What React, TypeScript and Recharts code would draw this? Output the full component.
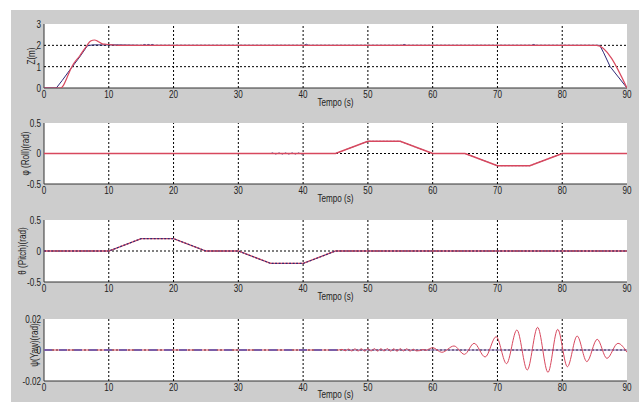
import React from 'react';
import { LineChart, Line, XAxis, YAxis, CartesianGrid } from 'recharts';

// time axis + tick labels
const X_TICKS = [0, 10, 20, 30, 40, 50, 60, 70, 80, 90];
const Z_TICKS = [0, 1, 2, 3];
const ANGLE_TICKS = [-0.5, 0, 0.5];
const YAW_TICKS = [-0.02, 0, 0.02];

// Z(m)
const zRedT = [0, 2.6, 3.0, 3.5, 4.3, 5.5, 6.6, 7.2, 7.8, 8.4, 9.0, 9.6, 10.5, 11.5, 85.3, 90];
const zRedV = [0, 0, 0.12, 0.45, 1.0, 1.5, 1.98, 2.2, 2.25, 2.17, 2.07, 2.05, 2.02, 2.0, 2.0, 0];
const zBlueT = [0, 1.9, 2.8, 4.0, 5.5, 6.7, 7.5, 11.2, 15.2, 15.5, 15.8, 16.1, 16.4, 16.7, 17.0, 40.2, 40.5, 40.8, 55.3, 55.6, 55.9, 75.3, 75.6, 75.9, 85.8, 86.4, 87.4, 90];
const zBlueV = [0, 0, 0.35, 0.85, 1.45, 1.98, 2.02, 2.02, 2.0, 2.04, 2.0, 2.04, 2.0, 2.04, 2.0, 2.0, 2.05, 2.0, 2.0, 2.04, 2.0, 2.0, 2.04, 2.0, 2.0, 1.65, 1.0, 0];

// roll
const rollRedT = [0, 45, 50, 55, 60, 65, 70, 75, 80, 90];
const rollRedV = [0, 0, 0.2, 0.2, 0, 0, -0.2, -0.2, 0, 0];
const rollBlueT = [0, 34.8, 35.3, 35.8, 36.3, 36.8, 37.3, 37.8, 38.3, 38.8, 39.3, 39.8, 40.3, 45, 50, 55, 60, 65, 70, 75, 80, 90];
const rollBlueV = [0, 0, 0.01, -0.01, 0.01, -0.01, 0.01, -0.01, 0.01, -0.01, 0.01, -0.01, 0, 0, 0.2, 0.2, 0, 0, -0.2, -0.2, 0, 0];

// pitch
const pitchT = [0, 10, 15, 20, 25, 30, 35, 40, 45, 90];
const pitchRedV = [0, 0, 0.2, 0.2, 0, 0, -0.2, -0.2, 0, 0];
const pitchBlueV = [0, 0, 0.2, 0.2, 0, 0, -0.2, -0.2, 0, 0];

// yaw
const yawRedT = [
  0, 45.5, 46.0, 46.5, 47.0, 47.5, 48.0, 48.5, 49.0, 49.5, 50.0, 50.5, 51.0, 51.5, 52.0, 52.5,
  53.0, 53.5, 54.0, 54.5, 55.0, 55.5, 56.0, 56.5, 57.0, 57.5, 58.0, 58.5, 59.0, 59.5, 60.0,
  61.4, 63.3, 64.9, 66.4, 68.1, 69.8, 71.4, 73.0, 74.6, 76.2, 77.8, 79.3, 80.8, 82.3, 83.8,
  85.4, 86.9, 88.6, 90,
];
const yawRedV = [
  0, 0, 0.0004, -0.0005, 0.0006, -0.0006, 0.0007, -0.0006, 0.0008, -0.0007, 0.0008, -0.0006,
  0.0009, -0.0007, 0.0008, -0.0006, 0.0009, -0.0007, 0.0008, -0.0008, 0.0009, -0.0006, 0.0008,
  -0.0007, 0.0005, -0.0006, -0.0004, 0.0003, -0.0002, 0.0008, 0.0015,
  -0.0015, 0.0026, -0.0028, 0.0043, -0.0045, 0.0086, -0.0088, 0.0129, -0.0129, 0.0146, -0.0144,
  0.0133, -0.0108, 0.009, -0.0075, 0.0069, -0.0054, 0.0043, -0.0015,
];
const yawBlueDashT = [0, 46];
const yawBlueDashV = [0, 0];
const yawBlueT = [46, 90];
const yawBlueV = [0, 0];

const toPts = (t: number[], v: number[]) => t.map((x, i) => ({ t: x, v: v[i] }));

const FONT = "'Liberation Sans', Arial, sans-serif";
const FS = 11;
const SX = 0.74; // matlab-ish narrow text
const RED = '#d8485e';
const BLUE = '#2e2a78';
const PURPLE = '#7b5ea7';
const GRID = '#000';
const MT = 10;
const MB = 22;
const PLOT_L = 44;
const PLOT_R = 627;
const X_GAP = 2; // tick label gap under the box
const Y_GAP = 3;

// x tick label + the dotted vertical grid line that belongs to it
const makeXTick = (boxH: number) => (p: any) => {
  const v = p.payload.value;
  const inner = v !== X_TICKS[0] && v !== X_TICKS[X_TICKS.length - 1];
  return (
    <g transform={`translate(${p.x},${p.y})`}>
      {inner && <line x1={0} x2={0} y1={-X_GAP} y2={-X_GAP - boxH} stroke={GRID} strokeWidth={1} strokeDasharray="2 2" />}
      <text transform={`scale(${SX},1)`} textAnchor="middle" dy="0.75em" fontSize={FS} fontFamily={FONT} fill="#222">
        {v}
      </text>
    </g>
  );
};

// y tick label + horizontal grid line
const makeYTick = (ticks: number[]) => (p: any) => {
  const v = p.payload.value;
  const inner = v !== ticks[0] && v !== ticks[ticks.length - 1];
  return (
    <g transform={`translate(${p.x},${p.y})`}>
      {inner && <line x1={Y_GAP} x2={Y_GAP + PLOT_R - PLOT_L} y1={0} y2={0} stroke={GRID} strokeWidth={1} strokeDasharray="2 2" />}
      <text transform={`scale(${SX},1)`} textAnchor="end" dy="0.36em" fontSize={FS} fontFamily={FONT} fill="#222">
        {v}
      </text>
    </g>
  );
};

function Panel({ top, boxH, yTicks, yDomain, yLabel, labelX, labelDy = 0, tempoDy = 18, children }: any) {
  const cy = MT + boxH / 2 + labelDy;
  const H = MT + boxH + MB;
  const yLab = () => (
    <g transform={`translate(${labelX},${cy}) rotate(-90) scale(${SX},1)`}>
      <text textAnchor="middle" dominantBaseline="central" fontSize={FS} fontFamily={FONT} fill="#222">
        {yLabel}
      </text>
    </g>
  );
  const xLab = () => (
    <g transform={`translate(${(PLOT_L + PLOT_R) / 2},${MT + boxH + tempoDy}) scale(${SX},1)`}>
      <text textAnchor="middle" fontSize={FS} fontFamily={FONT} fill="#222">
        Tempo (s)
      </text>
    </g>
  );
  return (
    <div style={{ position: 'absolute', left: 0, top: top - MT, width: 639, height: H }}>
      {/* axes, box and grid underneath */}
      <div style={{ position: 'absolute', left: 0, top: 0 }}>
        <LineChart width={639} height={H} margin={{ top: MT, right: 639 - PLOT_R, left: 0, bottom: 0 }}>
          <CartesianGrid fill="#fff" horizontal={false} vertical={false} />
          <XAxis
            dataKey="t"
            type="number"
            domain={[0, 90]}
            ticks={X_TICKS}
            interval={0}
            allowDataOverflow
            height={MB}
            tickSize={0}
            tickMargin={X_GAP}
            tick={makeXTick(boxH)}
            axisLine={{ stroke: '#333' }}
            label={xLab}
          />
          <XAxis xAxisId="top" orientation="top" type="number" domain={[0, 90]} height={0} tick={false} tickLine={false} axisLine={{ stroke: '#333' }} />
          <YAxis
            type="number"
            domain={yDomain}
            ticks={yTicks}
            interval={0}
            allowDataOverflow
            width={PLOT_L}
            tickSize={0}
            tickMargin={Y_GAP}
            tick={makeYTick(yTicks)}
            axisLine={{ stroke: '#333' }}
            label={yLab}
          />
          <YAxis yAxisId="right" orientation="right" type="number" domain={yDomain} width={0} tick={false} tickLine={false} axisLine={{ stroke: '#333' }} />
        </LineChart>
      </div>
      {/* series on top of the grid, same plot box */}
      <div style={{ position: 'absolute', left: 0, top: 0 }}>
        <LineChart width={639} height={H} margin={{ top: MT, right: 639 - PLOT_R, left: PLOT_L, bottom: MB }}>
          <XAxis dataKey="t" type="number" domain={[0, 90]} allowDataOverflow hide />
          <YAxis type="number" domain={yDomain} allowDataOverflow hide />
          {children}
        </LineChart>
      </div>
    </div>
  );
}

export default function App() {
  return (
    <div style={{ position: 'absolute', left: 0, top: 0, width: 639, height: 402, background: '#fff', overflow: 'hidden' }}>
      <div style={{ position: 'absolute', left: 11, top: 10, width: 628, height: 392, background: '#cdcdcd' }} />

      <Panel top={24} boxH={64} yTicks={Z_TICKS} yDomain={[0, 3]} yLabel="Z(m)" labelX={31}>
        <Line data={toPts(zBlueT, zBlueV)} dataKey="v" type="linear" stroke={BLUE} strokeWidth={1} dot={false} isAnimationActive={false} />
        <Line data={toPts(zRedT, zRedV)} dataKey="v" type="monotone" stroke={RED} strokeWidth={1.2} dot={false} isAnimationActive={false} />
      </Panel>

      <Panel top={123} boxH={61} yTicks={ANGLE_TICKS} yDomain={[-0.5, 0.5]} yLabel="φ (Roll)(rad)" labelX={25}>
        <Line data={toPts(rollBlueT, rollBlueV)} dataKey="v" type="linear" stroke={BLUE} strokeWidth={0.8} strokeDasharray="2 1.5" dot={false} isAnimationActive={false} />
        <Line data={toPts(rollRedT, rollRedV)} dataKey="v" type="linear" stroke={RED} strokeWidth={1.5} dot={false} isAnimationActive={false} />
      </Panel>

      <Panel top={220} boxH={62} yTicks={ANGLE_TICKS} yDomain={[-0.5, 0.5]} yLabel="θ (Pitch)(rad)" labelX={22}>
        <Line data={toPts(pitchT, pitchRedV)} dataKey="v" type="linear" stroke={RED} strokeWidth={1.3} dot={false} isAnimationActive={false} />
        <Line data={toPts(pitchT, pitchBlueV)} dataKey="v" type="linear" stroke={BLUE} strokeWidth={1.1} strokeDasharray="2 1.5" dot={false} isAnimationActive={false} />
      </Panel>

      <Panel top={319} boxH={62} yTicks={YAW_TICKS} yDomain={[-0.02, 0.02]} yLabel="ψ(Yaw)(rad)" labelX={34} labelDy={-5} tempoDy={17}>
        <Line data={toPts(yawBlueT, yawBlueV)} dataKey="v" type="linear" stroke={PURPLE} strokeWidth={1.2} dot={false} isAnimationActive={false} />
        <Line data={toPts(yawRedT, yawRedV)} dataKey="v" type="monotone" stroke={RED} strokeWidth={1} dot={false} isAnimationActive={false} />
        <Line data={toPts(yawBlueDashT, yawBlueDashV)} dataKey="v" type="linear" stroke={PURPLE} strokeWidth={2.2} strokeDasharray="8 7" dot={false} isAnimationActive={false} />
      </Panel>
    </div>
  );
}
